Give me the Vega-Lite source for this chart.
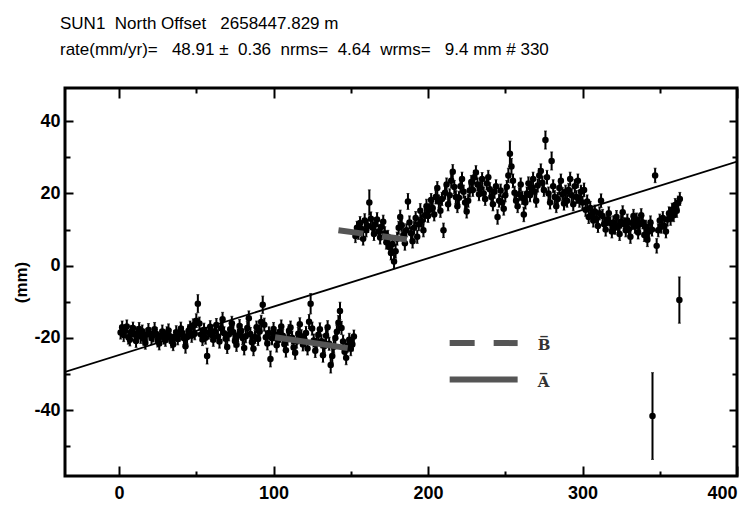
{
"$schema":"https://vega.github.io/schema/vega-lite/v6.json",
"width":672,"height":388,
"autosize":{"type":"none"},
"padding":{"left":65,"top":88,"right":11,"bottom":31},
"background":"white",
"config":{"view":{"stroke":"black","strokeWidth":3},"font":"Liberation Sans"},
"title":{"text":["SUN1\u00a0 North Offset \u00a0 2658447.829 m","rate(mm/yr)= \u00a0 48.91 ± \u00a00.36 \u00a0nrms= \u00a04.64 \u00a0wrms= \u00a0 9.4 mm # 330"],"anchor":"start","frame":"group","dx":-5,"offset":15,"baseline":"alphabetic","lineHeight":26,"font":"Liberation Sans","fontSize":17,"fontWeight":"normal","color":"black"},
"datasets":{
"pts":[
{"d":1,"v":-18.5,"e":1.8},{"d":2,"v":-17.0,"e":1.7},{"d":3,"v":-19.2,"e":1.8},{"d":4,"v":-18.0,"e":1.6},{"d":5,"v":-16.8,"e":1.8},{"d":6,"v":-19.8,"e":1.9},{"d":7,"v":-20.5,"e":1.7},{"d":8,"v":-18.3,"e":1.8},{"d":9,"v":-17.2,"e":1.6},{"d":10,"v":-19.0,"e":1.8},
{"d":11,"v":-20.8,"e":1.8},{"d":12,"v":-18.6,"e":1.7},{"d":13,"v":-17.5,"e":1.8},{"d":14,"v":-19.6,"e":1.9},{"d":15,"v":-18.1,"e":1.7},{"d":16,"v":-20.2,"e":1.8},{"d":17,"v":-21.3,"e":1.8},{"d":18,"v":-19.0,"e":1.6},{"d":19,"v":-17.8,"e":1.8},{"d":20,"v":-18.9,"e":1.7},
{"d":21,"v":-20.0,"e":1.8},{"d":22,"v":-19.3,"e":1.8},{"d":23,"v":-17.6,"e":1.9},{"d":24,"v":-18.8,"e":1.7},{"d":25,"v":-20.7,"e":1.8},{"d":26,"v":-21.5,"e":1.8},{"d":27,"v":-19.4,"e":1.6},{"d":28,"v":-18.2,"e":1.8},{"d":29,"v":-19.9,"e":1.8},{"d":30,"v":-20.6,"e":1.7},
{"d":31,"v":-18.7,"e":1.8},{"d":32,"v":-17.9,"e":1.8},{"d":33,"v":-19.5,"e":1.9},{"d":34,"v":-20.9,"e":1.8},{"d":35,"v":-21.8,"e":1.7},{"d":36,"v":-19.7,"e":1.8},{"d":37,"v":-18.4,"e":1.8},{"d":38,"v":-20.3,"e":1.6},{"d":39,"v":-19.1,"e":1.8},{"d":40,"v":-17.4,"e":1.8},
{"d":41,"v":-18.6,"e":1.7},{"d":42,"v":-20.1,"e":1.8},{"d":43,"v":-22.3,"e":1.9},{"d":44,"v":-19.8,"e":1.8},{"d":45,"v":-18.0,"e":1.7},{"d":46,"v":-17.1,"e":1.8},{"d":47,"v":-19.4,"e":1.8},{"d":48,"v":-16.5,"e":1.8},{"d":49,"v":-18.8,"e":1.7},{"d":50,"v":-15.2,"e":1.9},
{"d":51,"v":-10.5,"e":2.5},{"d":52,"v":-16.0,"e":1.8},{"d":53,"v":-19.0,"e":1.8},{"d":54,"v":-20.4,"e":1.7},{"d":55,"v":-17.7,"e":1.8},{"d":56,"v":-19.9,"e":1.8},{"d":57,"v":-25.0,"e":2.2},{"d":58,"v":-18.5,"e":1.8},{"d":59,"v":-16.9,"e":1.7},{"d":60,"v":-19.2,"e":1.8},
{"d":61,"v":-20.5,"e":1.8},{"d":62,"v":-18.1,"e":1.9},{"d":63,"v":-16.4,"e":1.8},{"d":64,"v":-19.6,"e":1.7},{"d":65,"v":-21.0,"e":1.8},{"d":66,"v":-17.3,"e":1.8},{"d":67,"v":-14.8,"e":1.9},{"d":68,"v":-18.7,"e":1.8},{"d":69,"v":-20.2,"e":1.7},{"d":70,"v":-22.5,"e":1.8},
{"d":71,"v":-19.0,"e":1.8},{"d":72,"v":-17.6,"e":1.8},{"d":73,"v":-15.9,"e":1.9},{"d":74,"v":-18.4,"e":1.8},{"d":75,"v":-20.8,"e":1.7},{"d":76,"v":-21.9,"e":1.8},{"d":77,"v":-19.3,"e":1.8},{"d":78,"v":-16.7,"e":1.8},{"d":79,"v":-18.0,"e":1.7},{"d":80,"v":-20.0,"e":1.8},
{"d":81,"v":-22.8,"e":1.9},{"d":82,"v":-19.5,"e":1.8},{"d":83,"v":-17.2,"e":1.8},{"d":84,"v":-14.5,"e":2.0},{"d":85,"v":-18.9,"e":1.8},{"d":86,"v":-21.2,"e":1.8},{"d":87,"v":-23.0,"e":1.9},{"d":88,"v":-19.7,"e":1.8},{"d":89,"v":-17.0,"e":1.7},{"d":90,"v":-20.3,"e":1.8},
{"d":91,"v":-18.2,"e":1.8},{"d":92,"v":-15.6,"e":1.9},{"d":93,"v":-10.8,"e":2.4},{"d":94,"v":-16.3,"e":1.8},{"d":95,"v":-19.8,"e":1.8},{"d":96,"v":-21.5,"e":1.8},{"d":97,"v":-18.6,"e":1.7},{"d":98,"v":-25.8,"e":2.2},{"d":99,"v":-20.1,"e":1.8},{"d":100,"v":-17.5,"e":1.8},
{"d":101,"v":-19.0,"e":1.8},{"d":102,"v":-22.0,"e":1.9},{"d":103,"v":-20.6,"e":1.8},{"d":104,"v":-18.3,"e":1.7},{"d":105,"v":-16.8,"e":1.8},{"d":106,"v":-19.4,"e":1.8},{"d":107,"v":-21.7,"e":1.8},{"d":108,"v":-23.4,"e":1.9},{"d":109,"v":-20.2,"e":1.8},{"d":110,"v":-18.0,"e":1.7},
{"d":111,"v":-17.1,"e":1.8},{"d":112,"v":-19.9,"e":1.8},{"d":113,"v":-22.6,"e":1.9},{"d":114,"v":-24.1,"e":1.8},{"d":115,"v":-21.0,"e":1.8},{"d":116,"v":-18.8,"e":1.7},{"d":117,"v":-16.2,"e":1.8},{"d":118,"v":-19.5,"e":1.8},{"d":119,"v":-21.8,"e":1.8},{"d":120,"v":-20.4,"e":1.9},
{"d":121,"v":-18.6,"e":1.8},{"d":122,"v":-22.9,"e":1.8},{"d":123,"v":-15.5,"e":2.0},{"d":124,"v":-10.5,"e":2.8},{"d":125,"v":-17.4,"e":1.8},{"d":126,"v":-20.7,"e":1.8},{"d":127,"v":-23.5,"e":1.9},{"d":128,"v":-21.3,"e":1.8},{"d":129,"v":-19.1,"e":1.8},{"d":130,"v":-17.6,"e":1.8},
{"d":131,"v":-20.9,"e":1.8},{"d":132,"v":-24.8,"e":1.9},{"d":133,"v":-22.2,"e":1.8},{"d":134,"v":-19.4,"e":1.8},{"d":135,"v":-17.0,"e":1.8},{"d":136,"v":-21.6,"e":1.8},{"d":137,"v":-27.5,"e":2.2},{"d":138,"v":-25.0,"e":1.9},{"d":139,"v":-22.4,"e":1.8},{"d":140,"v":-20.0,"e":1.8},
{"d":141,"v":-18.3,"e":1.8},{"d":142,"v":-15.8,"e":2.0},{"d":143,"v":-12.5,"e":2.4},{"d":144,"v":-17.2,"e":1.8},{"d":145,"v":-21.0,"e":1.8},{"d":146,"v":-23.8,"e":1.9},{"d":147,"v":-25.5,"e":1.9},{"d":148,"v":-22.1,"e":1.8},{"d":149,"v":-20.5,"e":1.8},{"d":150,"v":-23.0,"e":1.9},
{"d":151,"v":-21.8,"e":1.8},{"d":152,"v":-19.6,"e":1.8},
{"d":153,"v":8.2,"e":1.8},{"d":154,"v":10.5,"e":1.8},{"d":155,"v":9.0,"e":1.7},{"d":156,"v":11.8,"e":1.8},{"d":157,"v":10.2,"e":1.8},{"d":158,"v":7.5,"e":1.8},{"d":159,"v":12.5,"e":1.9},{"d":160,"v":9.8,"e":1.8},
{"d":161,"v":11.0,"e":1.8},{"d":162,"v":17.5,"e":3.5},{"d":163,"v":13.0,"e":1.9},{"d":164,"v":10.6,"e":1.8},{"d":165,"v":8.8,"e":1.8},{"d":166,"v":11.5,"e":1.8},{"d":167,"v":12.8,"e":1.9},{"d":168,"v":9.5,"e":1.8},{"d":169,"v":7.8,"e":1.8},{"d":170,"v":10.8,"e":1.8},
{"d":171,"v":12.2,"e":1.8},{"d":172,"v":9.0,"e":1.8},{"d":173,"v":6.5,"e":1.9},{"d":174,"v":8.0,"e":1.8},{"d":175,"v":5.2,"e":1.9},{"d":176,"v":3.5,"e":1.9},{"d":177,"v":6.0,"e":1.8},{"d":178,"v":1.2,"e":2.0},{"d":179,"v":4.0,"e":1.9},{"d":180,"v":7.5,"e":1.8},
{"d":181,"v":10.5,"e":1.8},{"d":182,"v":13.5,"e":1.9},{"d":183,"v":11.2,"e":1.8},{"d":184,"v":8.5,"e":1.8},{"d":185,"v":6.2,"e":1.9},{"d":186,"v":9.8,"e":1.8},{"d":187,"v":17.8,"e":2.2},{"d":188,"v":12.0,"e":1.8},{"d":189,"v":9.0,"e":1.8},{"d":190,"v":6.8,"e":1.9},
{"d":191,"v":10.5,"e":1.8},{"d":192,"v":13.2,"e":1.8},{"d":193,"v":8.0,"e":1.8},{"d":194,"v":11.5,"e":1.8},{"d":195,"v":15.2,"e":2.0},{"d":196,"v":12.4,"e":1.8},{"d":197,"v":9.8,"e":1.8},{"d":198,"v":14.0,"e":1.8},{"d":199,"v":16.5,"e":1.9},{"d":200,"v":13.8,"e":1.8},
{"d":201,"v":15.5,"e":1.8},{"d":202,"v":18.2,"e":1.8},{"d":203,"v":16.0,"e":1.8},{"d":204,"v":14.2,"e":1.8},{"d":205,"v":19.0,"e":1.9},{"d":206,"v":21.5,"e":1.8},{"d":207,"v":17.8,"e":1.8},{"d":208,"v":15.2,"e":1.8},{"d":209,"v":18.5,"e":1.8},{"d":210,"v":9.8,"e":2.0},
{"d":211,"v":20.2,"e":1.8},{"d":212,"v":22.5,"e":1.8},{"d":213,"v":17.0,"e":1.8},{"d":214,"v":19.5,"e":1.8},{"d":215,"v":23.5,"e":1.9},{"d":216,"v":26.0,"e":2.0},{"d":217,"v":21.8,"e":1.8},{"d":218,"v":19.0,"e":1.8},{"d":219,"v":16.5,"e":1.8},{"d":220,"v":18.8,"e":1.8},
{"d":221,"v":22.0,"e":1.8},{"d":222,"v":24.0,"e":1.9},{"d":223,"v":20.5,"e":1.8},{"d":224,"v":17.5,"e":1.8},{"d":225,"v":15.0,"e":1.8},{"d":226,"v":18.0,"e":1.8},{"d":227,"v":20.8,"e":1.8},{"d":228,"v":23.2,"e":1.8},{"d":229,"v":21.0,"e":1.8},{"d":230,"v":24.5,"e":1.9},
{"d":231,"v":25.8,"e":1.9},{"d":232,"v":22.5,"e":1.8},{"d":233,"v":19.8,"e":1.8},{"d":234,"v":21.5,"e":1.8},{"d":235,"v":24.0,"e":1.8},{"d":236,"v":20.0,"e":1.8},{"d":237,"v":18.5,"e":1.8},{"d":238,"v":22.8,"e":1.8},{"d":239,"v":24.5,"e":1.9},{"d":240,"v":21.2,"e":1.8},
{"d":241,"v":19.0,"e":1.8},{"d":242,"v":17.0,"e":1.8},{"d":243,"v":20.5,"e":1.8},{"d":244,"v":22.0,"e":1.8},{"d":245,"v":13.5,"e":2.0},{"d":246,"v":18.0,"e":1.8},{"d":247,"v":20.8,"e":1.8},{"d":248,"v":17.5,"e":1.8},{"d":249,"v":15.8,"e":1.8},{"d":250,"v":19.5,"e":1.8},
{"d":251,"v":21.8,"e":1.8},{"d":252,"v":25.0,"e":2.0},{"d":253,"v":31.0,"e":3.5},{"d":254,"v":27.5,"e":2.2},{"d":255,"v":23.5,"e":1.9},{"d":256,"v":20.2,"e":1.8},{"d":257,"v":18.0,"e":1.8},{"d":258,"v":16.5,"e":1.8},{"d":259,"v":19.8,"e":1.8},{"d":260,"v":22.5,"e":1.8},
{"d":261,"v":18.8,"e":1.8},{"d":262,"v":14.2,"e":2.0},{"d":263,"v":17.5,"e":1.8},{"d":264,"v":20.0,"e":1.8},{"d":265,"v":22.8,"e":1.8},{"d":266,"v":19.5,"e":1.8},{"d":267,"v":21.5,"e":1.8},{"d":268,"v":24.0,"e":1.9},{"d":269,"v":20.5,"e":1.8},{"d":270,"v":18.0,"e":1.8},
{"d":271,"v":22.2,"e":1.8},{"d":272,"v":25.0,"e":1.9},{"d":273,"v":26.2,"e":2.0},{"d":274,"v":23.0,"e":1.8},{"d":275,"v":21.0,"e":1.8},{"d":276,"v":34.8,"e":2.5},{"d":277,"v":24.5,"e":1.9},{"d":278,"v":20.0,"e":1.8},{"d":279,"v":17.5,"e":1.8},{"d":280,"v":29.0,"e":2.5},
{"d":281,"v":22.0,"e":1.8},{"d":282,"v":19.0,"e":1.8},{"d":283,"v":16.5,"e":1.8},{"d":284,"v":18.5,"e":1.8},{"d":285,"v":21.5,"e":1.8},{"d":286,"v":23.5,"e":1.9},{"d":287,"v":19.8,"e":1.8},{"d":288,"v":17.2,"e":1.8},{"d":289,"v":20.5,"e":1.8},{"d":290,"v":18.0,"e":1.8},
{"d":291,"v":21.0,"e":1.8},{"d":292,"v":24.0,"e":1.9},{"d":293,"v":19.5,"e":1.8},{"d":294,"v":17.0,"e":1.8},{"d":295,"v":22.0,"e":1.9},{"d":296,"v":19.0,"e":1.8},{"d":297,"v":23.5,"e":1.9},{"d":298,"v":18.0,"e":1.8},{"d":299,"v":20.5,"e":1.8},{"d":300,"v":17.5,"e":1.8},
{"d":301,"v":21.0,"e":1.9},{"d":302,"v":15.5,"e":1.8},{"d":303,"v":17.8,"e":1.8},{"d":304,"v":13.5,"e":1.8},{"d":305,"v":16.0,"e":1.8},{"d":306,"v":14.0,"e":1.8},{"d":307,"v":12.5,"e":1.8},{"d":308,"v":15.0,"e":1.8},{"d":309,"v":13.0,"e":1.8},{"d":310,"v":11.0,"e":1.8},
{"d":311,"v":14.5,"e":1.8},{"d":312,"v":18.0,"e":1.9},{"d":313,"v":13.8,"e":1.8},{"d":314,"v":11.5,"e":1.8},{"d":315,"v":10.0,"e":1.8},{"d":316,"v":12.8,"e":1.8},{"d":317,"v":14.5,"e":1.8},{"d":318,"v":11.8,"e":1.8},{"d":319,"v":9.5,"e":1.8},{"d":320,"v":12.0,"e":1.8},
{"d":321,"v":10.5,"e":1.8},{"d":322,"v":13.5,"e":1.8},{"d":323,"v":11.0,"e":1.8},{"d":324,"v":8.8,"e":1.8},{"d":325,"v":12.2,"e":1.8},{"d":326,"v":14.8,"e":1.8},{"d":327,"v":11.5,"e":1.8},{"d":328,"v":9.8,"e":1.8},{"d":329,"v":12.5,"e":1.8},{"d":330,"v":10.2,"e":1.8},
{"d":331,"v":8.0,"e":1.8},{"d":332,"v":11.8,"e":1.8},{"d":333,"v":13.8,"e":1.8},{"d":334,"v":10.8,"e":1.8},{"d":335,"v":12.8,"e":1.8},{"d":336,"v":9.2,"e":1.8},{"d":337,"v":11.5,"e":1.8},{"d":338,"v":14.0,"e":1.8},{"d":339,"v":12.0,"e":1.8},{"d":340,"v":8.5,"e":1.8},
{"d":341,"v":10.8,"e":1.8},{"d":342,"v":7.2,"e":1.9},{"d":343,"v":9.5,"e":1.8},{"d":344,"v":12.0,"e":1.8},{"d":345,"v":10.0,"e":1.8},{"d":347,"v":25.0,"e":2.0},{"d":348,"v":5.5,"e":2.0},{"d":349,"v":9.8,"e":1.8},{"d":350,"v":12.5,"e":1.8},
{"d":351,"v":10.8,"e":1.8},{"d":352,"v":13.2,"e":1.8},{"d":353,"v":11.0,"e":1.8},{"d":354,"v":9.5,"e":1.8},{"d":355,"v":12.8,"e":1.8},{"d":356,"v":14.5,"e":1.8},{"d":357,"v":13.0,"e":1.8},{"d":358,"v":15.5,"e":1.8},{"d":359,"v":14.0,"e":1.8},{"d":360,"v":16.8,"e":1.8},
{"d":361,"v":15.2,"e":1.8},{"d":362,"v":17.5,"e":1.8},{"d":363,"v":18.5,"e":1.8},
{"d":345.3,"v":-41.6,"e":12.0},{"d":362.7,"v":-9.5,"e":6.4}
],
"fit":[{"d":-35,"v":-29.4},{"d":400,"v":28.85}],
"seg":[{"name":"A","d":101,"d2":148,"v":-19.8,"v2":-22.8},{"name":"B","d":142,"d2":198,"v":9.8,"v2":6.6},{"name":"B","d":214,"d2":258,"v":-21.4,"v2":-21.4},{"name":"A","d":214,"d2":258,"v":-31.5,"v2":-31.5}],
"leg":[{"lab":"B\u0305","d":271,"v":-21.4},{"lab":"A\u0305","d":271,"v":-31.5}]
},
"resolve":{"axis":{"x":"independent","y":"independent"}},
"layer":[
{"data":{"name":"fit"},"mark":{"type":"line","color":"black","strokeWidth":1.8,"clip":true},
 "encoding":{
  "x":{"field":"d","type":"quantitative","scale":{"domain":[-35,400],"nice":false,"zero":false},
   "axis":{"orient":"bottom","values":[0,50,100,150,200,250,300,350,400],"labelExpr":"datum.value % 100 === 0 ? '' + datum.value : ''","grid":false,"domain":false,"tickColor":"black","tickWidth":2,"tickSize":{"condition":{"test":"datum.value % 100 === 0","value":-10},"value":-5},"labelFont":"Liberation Sans","labelFontWeight":"bold","labelFontSize":18,"labelColor":"black","labelPadding":18,"title":null}},
  "y":{"field":"v","type":"quantitative","scale":{"domain":[-58.2,49.2],"nice":false,"zero":false},
   "axis":{"orient":"left","values":[-50,-40,-30,-20,-10,0,10,20,30,40],"labelExpr":"datum.value % 20 === 0 ? '' + datum.value : ''","grid":false,"domain":false,"tickColor":"black","tickWidth":2,"tickSize":{"condition":{"test":"datum.value % 20 === 0","value":-8},"value":-5},"labelFont":"Liberation Sans","labelFontWeight":"bold","labelFontSize":18,"labelColor":"black","labelPadding":13,"title":"(mm)","titleFont":"Liberation Sans","titleFontWeight":"bold","titleFontSize":17,"titleColor":"black","titleX":-44,"titleY":194,"titleAlign":"center","titleBaseline":"middle","titleAngle":-90}}
 }},
{"data":{"name":"fit"},"mark":{"type":"line","opacity":0},
 "encoding":{
  "x":{"field":"d","type":"quantitative","axis":{"orient":"top","values":[0,50,100,150,200,250,300,350,400],"labels":false,"grid":false,"domain":false,"tickColor":"black","tickWidth":2,"tickSize":{"condition":{"test":"datum.value % 100 === 0","value":-10},"value":-5},"title":null}},
  "y":{"field":"v","type":"quantitative","axis":{"orient":"right","values":[-50,-40,-30,-20,-10,0,10,20,30,40],"labels":false,"grid":false,"domain":false,"tickColor":"black","tickWidth":2,"tickSize":{"condition":{"test":"datum.value % 20 === 0","value":-8},"value":-5},"title":null}}
 }},
{"data":{"name":"pts"},"mark":{"type":"errorbar","ticks":{"size":3,"color":"black","strokeWidth":1.5},"rule":{"color":"black","strokeWidth":2}},
 "encoding":{"x":{"field":"d","type":"quantitative","axis":null},"y":{"field":"v","type":"quantitative","axis":null},"yError":{"field":"e"}}},
{"data":{"name":"pts"},"mark":{"type":"point","filled":true,"shape":"circle","size":42,"color":"black","opacity":1},
 "encoding":{"x":{"field":"d","type":"quantitative","axis":null},"y":{"field":"v","type":"quantitative","axis":null}}},
{"data":{"name":"seg"},"transform":[{"filter":"datum.name === 'A'"}],"mark":{"type":"rule","color":"#555555","strokeWidth":6},
 "encoding":{"x":{"field":"d","type":"quantitative","axis":null},"x2":{"field":"d2"},"y":{"field":"v","type":"quantitative","axis":null},"y2":{"field":"v2"}}},
{"data":{"name":"seg"},"transform":[{"filter":"datum.name === 'B'"}],"mark":{"type":"rule","color":"#555555","strokeWidth":6,"strokeDash":[25,19]},
 "encoding":{"x":{"field":"d","type":"quantitative","axis":null},"x2":{"field":"d2"},"y":{"field":"v","type":"quantitative","axis":null},"y2":{"field":"v2"}}},
{"data":{"name":"leg"},"mark":{"type":"text","align":"left","baseline":"middle","font":"DejaVu Serif","fontWeight":"bold","fontSize":15,"color":"#333333","dy":2},
 "encoding":{"x":{"field":"d","type":"quantitative","axis":null},"y":{"field":"v","type":"quantitative","axis":null},"text":{"field":"lab"}}}
]
}
